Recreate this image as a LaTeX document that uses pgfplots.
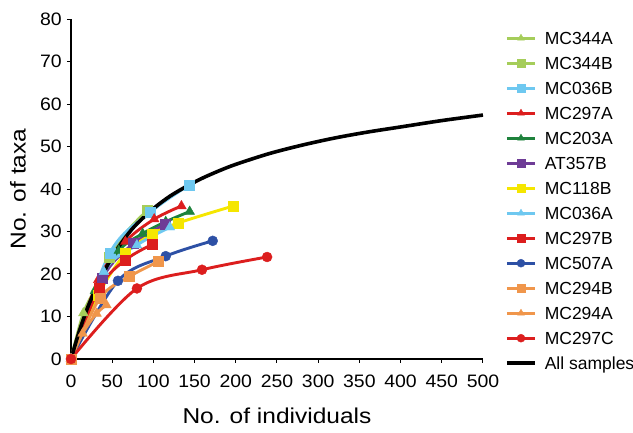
\documentclass[border=0pt]{standalone}
\usepackage{fontspec}
\setmainfont{Liberation Sans}
\newfontfamily\tickfont{Liberation Sans}[FakeStretch=1.08]
\newfontfamily\labfont{Liberation Sans}[FakeStretch=1.14]
\usepackage{pgfplots}
\pgfplotsset{compat=1.18}
\definecolor{lgreen}{RGB}{165,205,90}
\definecolor{lblue}{RGB}{110,200,240}
\definecolor{cred}{RGB}{220,30,30}
\definecolor{dgreen}{RGB}{30,130,60}
\definecolor{cpurple}{RGB}{110,60,150}
\definecolor{cyellow}{RGB}{245,230,0}
\definecolor{cblue}{RGB}{45,80,165}
\definecolor{corange}{RGB}{240,150,75}
\pgfplotsset{
  ser/.style n args={3}{color=#1, line width=2.9pt, mark=#2, mark size=#3,
    mark options={solid, fill=#1, draw=#1, line width=0.4pt}, smooth, tension=0.55},
}
\begin{document}
\begin{tikzpicture}
\begin{axis}[
  scale only axis, width=412pt, height=340pt,
  xmin=0, xmax=500, ymin=0, ymax=80,
  axis lines=left, axis line style={-, line width=1.3pt},
  xtick={0,50,...,500}, ytick={0,10,...,80},
  tick align=outside, major tick length=4pt, tick style={line width=1pt, black},
  /pgf/number format/assume math mode=true,
  ticklabel style={font=\tickfont\fontsize{18}{20}\selectfont},
  xticklabel style={inner sep=0pt, yshift=-12pt},
  yticklabel style={inner sep=0pt, xshift=-5pt},
  xlabel={No. of individuals}, ylabel={No. of taxa},
  label style={font=\labfont\fontsize{21.5}{24}\selectfont},
  xlabel style={at={(axis description cs:0.5,-0.168)}, anchor=center},
  ylabel style={at={(axis description cs:-0.1286,0.5)}, anchor=center},
  clip=false,
  legend cell align=left,
  legend style={at={(axis description cs:1,1)}, anchor=north west, xshift=22pt, yshift=-12.5pt,
    draw=none, fill=none, font=\fontsize{17.5}{20}\selectfont, row sep=12pt, column sep=8pt,
    inner sep=0pt, nodes={inner sep=0pt, text height=13pt, text depth=0pt}},
  legend image code/.code={\draw[#1, mark size=4pt, mark repeat=2, mark phase=2] plot coordinates {(0pt,0pt) (14pt,0pt) (28pt,0pt)};},
]
% MC344A
\addplot[ser={lgreen}{triangle*}{5.6pt}] coordinates {(0,0) (15,10.8) (30,16.5)};
\addlegendentry{MC344A}
% MC344B
\addplot[ser={lgreen}{square*}{5pt}] coordinates {(0,0) (46,24) (93,35)};
\addlegendentry{MC344B}
% MC036B
\addplot[ser={lblue}{square*}{5pt}] coordinates {(0,0) (47,24.9) (96,34.5) (144,41)};
\addlegendentry{MC036B}
% MC297A
\addplot[ser={cred}{triangle*}{5.6pt}] coordinates {(0,0) (33,18.6) (66,27.6) (101,32.9) (134,36)};
\addlegendentry{MC297A}
% MC203A
\addplot[ser={dgreen}{triangle*}{5.6pt}] coordinates {(0,0) (29,16) (58,25.5) (87,29.5) (115,32.3) (144,34.7)};
\addlegendentry{MC203A}
% AT357B
\addplot[ser={cpurple}{square*}{5pt}] coordinates {(0,0) (38,19) (76,27.2) (114,31.6)};
\addlegendentry{AT357B}
% MC118B
\addplot[ser={cyellow}{square*}{5pt}] coordinates {(0,0) (33,15) (66,24.8) (98,29.3) (130,32) (197,36)};
\addlegendentry{MC118B}
% MC036A
\addplot[ser={lblue}{triangle*}{5.6pt}] coordinates {(0,0) (40,20.5) (80,26.8) (120,31)};
\addlegendentry{MC036A}
% MC297B
\addplot[ser={cred}{square*}{5pt}] coordinates {(0,0) (34,16.6) (66,23.3) (99,27)};
\addlegendentry{MC297B}
% MC507A
\addplot[ser={cblue}{*}{5pt}] coordinates {(0,0) (57,18.4) (115,24.2) (172,27.8)};
\addlegendentry{MC507A}
% MC294B
\addplot[ser={corange}{square*}{5pt}] coordinates {(0,0) (35,14.3) (71,19.4) (106,22.9)};
\addlegendentry{MC294B}
% MC294A
\addplot[ser={corange}{triangle*}{5.6pt}] coordinates {(0,0) (14,6) (31,10.7) (43,12.7)};
\addlegendentry{MC294A}
% MC297C
\addplot[ser={cred}{*}{5pt}] coordinates {(0,0) (80,16.6) (159,21) (238,24)};
\addlegendentry{MC297C}
% All samples
\addplot[black, line width=3.6pt, smooth, no marks] coordinates {(0,0) (10,6.5) (20,12) (30,16.5) (40,20.5) (50,24) (60,27) (70,29.6) (80,31.8) (100,35.4) (120,38.3) (140,40.6) (160,42.6) (180,44.3) (200,45.8) (240,48.3) (280,50.3) (320,52) (360,53.4) (400,54.6) (450,56.1) (500,57.4)};
\addlegendentry{All samples}
\end{axis}
\pgfresetboundingbox
\path (-71pt,-74pt) rectangle (562pt,359pt);
\end{tikzpicture}
\end{document}
